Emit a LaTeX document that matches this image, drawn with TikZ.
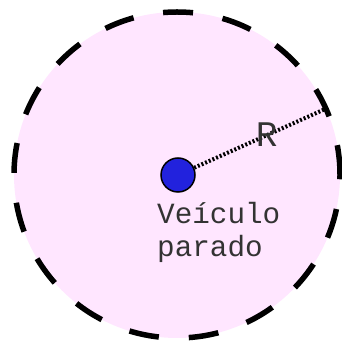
\documentclass[tikz,border=0pt]{standalone}
\usepackage{fontspec}
\setmonofont{Liberation Mono}
\usetikzlibrary{positioning,calc}
\definecolor{zonepink}{RGB}{255,230,255}
\definecolor{carblue}{RGB}{34,34,221}

\begin{document}
\begin{tikzpicture}[x=1pt,y=1pt,line cap=butt,
  zone/.style={fill=zonepink,draw=black,line width=5.5pt,dash pattern=on 30pt off 30pt},
  car/.style={circle,fill=carblue,draw=black,line width=1.5pt,minimum size=34pt,inner sep=0pt},
  radius line/.style={line width=4pt,dash pattern=on 2pt off 2pt},
  lbl/.style={font=\ttfamily\fontsize{29.3}{33}\selectfont,text=black!80,inner sep=0pt}]
\useasboundingbox (0,0) rectangle (342,342);
\coordinate (ctr) at (177,167);
\draw[zone] (ctr) circle (163);
\coordinate (rim) at ($(ctr)+(24:163)$);
\node[car] (car) at (178,167) {};
\draw[radius line] (car) -- (rim) node[pos=0.55,below=-14pt,lbl,font=\ttfamily\fontsize{36}{36}\selectfont] (R) {R};
\node[lbl,anchor=base west,align=left] (caption) at (157,85) {Veículo\\parado};
\end{tikzpicture}
\end{document}
